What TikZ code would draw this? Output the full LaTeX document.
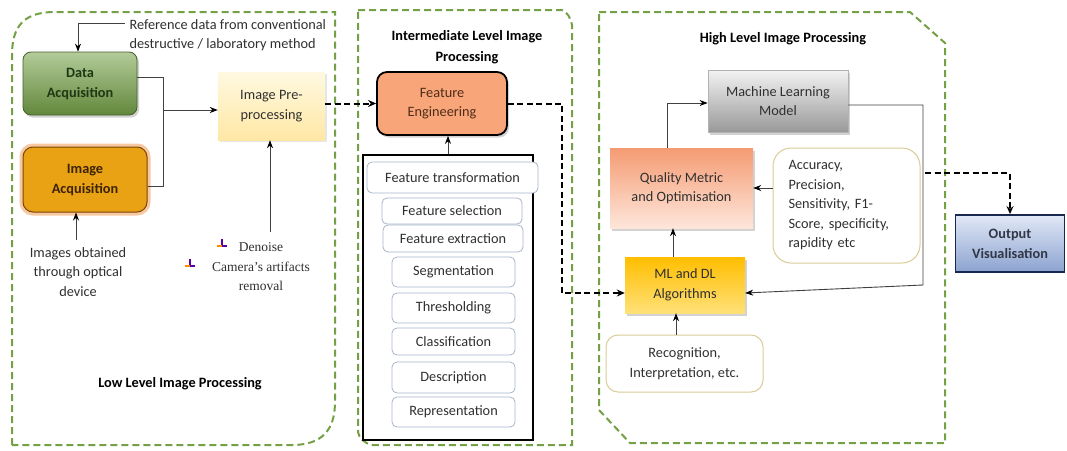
\documentclass[tikz,border=0pt]{standalone}
\usepackage{fontspec}
\setmainfont{Carlito}
\newfontfamily\serifA{Liberation Serif}
\usetikzlibrary{arrows.meta,shadows,calc}
\definecolor{pgreen}{HTML}{74A046}
\definecolor{txt}{HTML}{303030}
\definecolor{tanb}{HTML}{D9CC98}
\definecolor{ibord}{HTML}{A9B5CA}
\begin{document}
\begin{tikzpicture}[x=1pt,y=-1pt,
  font=\fontsize{14.3}{19.5}\selectfont,
  panel/.style={draw=pgreen, line width=2pt, dash pattern=on 7pt off 4pt},
  line/.style={draw=black!75, line width=0.9pt},
  conn/.style={line, -{Stealth[length=8pt,width=6pt,color=black]}},
  dconn/.style={draw=black, line width=2pt, dash pattern=on 6pt off 3.5pt, -{Stealth[length=8pt,width=7pt]}},
  box/.style={align=center, text=txt, inner sep=2pt},
  bbox/.style={box, font=\fontsize{14.3}{20}\selectfont\bfseries},
  shad/.style={drop shadow={shadow xshift=2pt, shadow yshift=-2.5pt, opacity=0.35}},
  inner/.style={box, draw=ibord, line width=0.8pt, rounded corners=5pt, fill=white},
  tanbox/.style={box, draw=tanb, line width=1pt, fill=white},
  title/.style={align=center, font=\fontsize{14.3}{21}\selectfont\bfseries, text=black}
]
\useasboundingbox (0,0) rectangle (1067,450);
\fill[white] (0,0) rectangle (1067,450);

% panels
\draw[panel] (12,445) -- (12,55) .. controls (12,25) and (25,12) .. (55,12) -- (335,12) -- (335,402) .. controls (335,430) and (322,445) .. (292,445) -- cycle;
\draw[panel] (358,10) -- (562,10) .. controls (567,12) and (571,18) .. (572,25) -- (572,445) -- (372,445) .. controls (364,443) and (359,438) .. (358,432) -- cycle;
\draw[panel] (599,12) -- (910,12) -- (945,43) -- (945,443) -- (630,443) -- (599,410) -- cycle;

% ---- Low level
\node[bbox, text={rgb,255:red,30;green,55;blue,20}, minimum width=114pt, minimum height=63pt, rounded corners=8pt,
  top color=pgreen!55!white, bottom color=pgreen!85!black, draw=pgreen!60!black, line width=0.8pt, shad] (da) at (80,83.5) {Data\\Acquisition};
\node[bbox, text={rgb,255:red,60;green,35;blue,5}, minimum width=124pt, minimum height=65pt, rounded corners=10pt,
  fill={rgb,255:red,233;green,162;blue,20}, draw={rgb,255:red,120;green,70;blue,10}, line width=1pt,
  preaction={draw={rgb,255:red,248;green,200;blue,160}, line width=7pt}] (ia) at (85,179.5) {Image\\Acquisition};
\node[box, minimum width=107pt, minimum height=68pt, top color={rgb,255:red,255;green,249;blue,225}, bottom color={rgb,255:red,255;green,232;blue,165},
  drop shadow={shadow xshift=1.5pt, shadow yshift=-1.5pt, opacity=0.2}] (pp) at (271.5,106) {Image Pre-\\processing};

\node[anchor=west, align=left, text=txt] (ref) at (126,35) {Reference data from conventional\\destructive / laboratory method};
\coordinate (rs) at (125,23);
\coordinate (dain) at ($(da.north)+(-2,0)$);
\draw[conn] (rs) -| (dain);

\node[box] (img) at (78,272) {Images obtained\\through optical\\device};
\coordinate (imgtop) at (76,240);
\draw[conn] (imgtop) -- (imgtop |- ia.south);

\coordinate (jn) at (163,110);
\draw[line] ($(da.east)+(0,-6)$) -| (jn);
\draw[line] ($(ia.east)+(0,7)$) -| (jn);
\draw[conn] (jn) -- (jn -| pp.west);

\node[align=center, text=txt, font=\serifA\fontsize{13.5}{19.5}\selectfont] (dn) at (261,267) {Denoise\\Camera’s artifacts\\removal};
\coordinate (dnt) at (270,232);
\draw[conn] (dnt) -- (dnt |- pp.south);
\foreach \bx/\by in {222/246, 190/266}{
  \draw[violet!70!blue, line width=1.3pt] (\bx,\by-7) -- (\bx,\by);
  \draw[orange!90!yellow, line width=2pt] (\bx-5,\by) -- (\bx,\by);
  \draw[violet!70!blue, line width=2pt] (\bx,\by) -- (\bx+5,\by);
}

\node[title] (lt) at (180,384) {Low Level Image Processing};

% ---- Intermediate
\node[title] (it) at (467,47) {Intermediate Level Image\\Processing};
\node[box, text={rgb,255:red,80;green,45;blue,25}, minimum width=130pt, minimum height=63pt, rounded corners=10pt,
  fill={rgb,255:red,248;green,165;blue,122}, draw=black, line width=1.8pt, shad] (fe) at (442,103.5) {Feature\\Engineering};
\node[draw=black, line width=2pt, minimum width=170pt, minimum height=285pt, inner sep=0pt] (big) at (448,297.5) {};
\node[inner, minimum width=171pt, minimum height=31pt] (ft) at (452.5,177.5) {Feature transformation};
\node[inner, minimum width=140pt, minimum height=26pt] (fs) at (452,211) {Feature selection};
\node[inner, minimum width=140pt, minimum height=27pt] (fx) at (453,238.5) {Feature extraction};
\node[inner, minimum width=123pt, minimum height=30pt] (seg) at (453.5,272) {Segmentation};
\node[inner, minimum width=123pt, minimum height=30pt] (thr) at (453.5,308) {Thresholding};
\node[inner, minimum width=123pt, minimum height=27pt] (cls) at (453.5,341.5) {Classification};
\node[inner, minimum width=123pt, minimum height=31pt] (des) at (453.5,377.5) {Description};
\node[inner, minimum width=123pt, minimum height=30pt] (rep) at (453.5,412) {Representation};
\draw[conn] (big.north) -- (big.north |- fe.south);

% ---- High level
\node[title] (ht) at (783,39) {High Level Image Processing};
\node[box, minimum width=140pt, minimum height=62pt, top color=gray!10, bottom color=gray!80, draw=gray!60, line width=0.8pt, shad] (mlm) at (778,101) {Machine Learning\\Model};
\node[box, minimum width=143pt, minimum height=80pt, top color={rgb,255:red,245;green,155;blue,115}, bottom color={rgb,255:red,253;green,230;blue,218}, shad] (qm) at (681.5,188) {Quality Metric\\and Optimisation};
\node[tanbox, rounded corners=18pt, minimum width=147pt, minimum height=115pt, text width=116pt, align=left] (acc) at (846.5,205.5) {Accuracy,\\Precision,\\Sensitivity, F1-\\Score, specificity,\\rapidity etc};
\node[box, minimum width=120pt, minimum height=56pt, top color={rgb,255:red,255;green,190;blue,0}, bottom color={rgb,255:red,255;green,225;blue,120}, shad] (mldl) at (685,285) {ML and DL\\Algorithms};
\node[tanbox, rounded corners=12pt, minimum width=157pt, minimum height=57pt] (rec) at (684.5,363.5) {Recognition,\\Interpretation, etc.};
\node[bbox, text={rgb,255:red,50;green,55;blue,70}, minimum width=109pt, minimum height=57pt,
  top color={rgb,255:red,225;green,232;blue,246}, bottom color={rgb,255:red,140;green,163;blue,208}, draw={rgb,255:red,25;green,40;blue,80}, line width=1.8pt] (out) at (1010,243.5) {Output\\Visualisation};

\draw[conn] ($(qm.north)+(-14,0)$) |- ($(mlm.west)+(0,2)$);
\coordinate (fbx) at (923,0);
\draw[conn] ($(mlm.east)+(0,4)$) -| (fbx |- mldl.east) -- ($(mldl.east)+(0,8)$);
\draw[conn] (acc.west |- qm.east) -- (qm.east);
\draw[conn] ($(mldl.north)+(-12,0)$) -- ($(qm.south)+(-8.5,0)$);
\draw[conn] ($(rec.north)+(-8.5,0)$) -- ($(mldl.south)+(-9,0)$);

% dashed flow
\draw[dconn] (pp.east |- fe.west) -- (fe.west);
\coordinate (fk) at (562,0);
\draw[dconn] (fe.east) -- (fe.east -| fk) -- (fk |- 0,293) -- ($(mldl.west)+(0,8)$);
\coordinate (og) at (925,173);
\draw[dconn] (og) -| (out.north);
\end{tikzpicture}
\end{document}
